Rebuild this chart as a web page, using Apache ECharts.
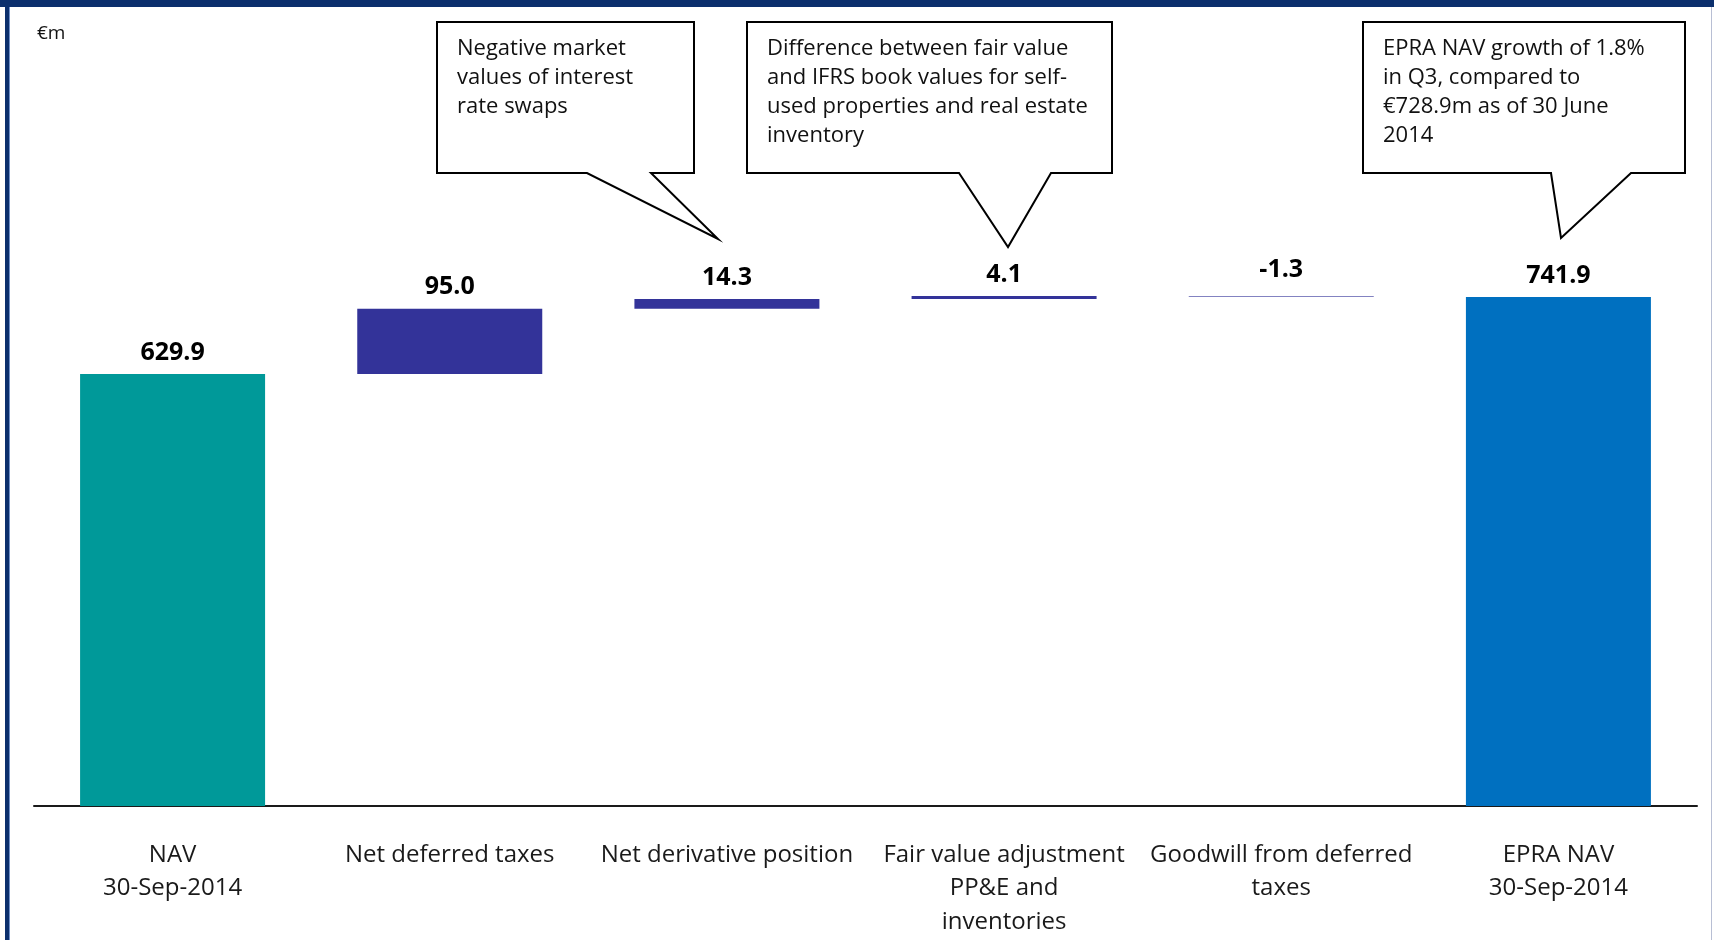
<!DOCTYPE html>
<html>
<head>
<meta charset="utf-8">
<title>EPRA NAV bridge</title>
<script src="https://cdn.jsdelivr.net/npm/echarts@6/dist/echarts.min.js"></script>
<style>
  html, body { margin: 0; padding: 0; background: #fff; }
  #chart { width: 1714px; height: 940px; }
</style>
</head>
<body>
<div id="chart"></div>
<script>
// bridge from NAV to EPRA NAV, €m
const categories = [
  'NAV\n30-Sep-2014',
  'Net deferred taxes',
  'Net derivative position',
  'Fair value adjustment\nPP&E and\ninventories',
  'Goodwill from deferred\ntaxes',
  'EPRA NAV\n30-Sep-2014'
];
const startValue = 629.9;
const changes = [95.0, 14.3, 4.1, -1.3];
const endValue = 741.9;

const barColors = ['#009999', '#333399', '#333399', '#333399', '#8383c1', '#0070c0'];

const notes = [
  ['Negative market', 'values of interest', 'rate swaps'],
  ['Difference between fair value', 'and IFRS book values for self-', 'used properties and real estate', 'inventory'],
  ['EPRA NAV growth of 1.8%', 'in Q3, compared to', '€728.9m as of 30 June', '2014']
];

// build invisible base + visible part for the waterfall
const shown = [startValue];
const base = [0];
let running = startValue;
changes.forEach(function (d) {
  const next = running + d;
  base.push(Math.min(running, next));
  shown.push(Math.abs(d));
  running = next;
});
base.push(0);
shown.push(endValue);
const labelValues = [startValue].concat(changes, [endValue]);

const FONT = '"Open Sans", "Noto Sans", sans-serif';
const NAVY = '#0b2f6d';

function callout(lines, box, tip) {
  const L = box[0], T = box[1], R = box[2], B = box[3];
  return [
    {
      type: 'polygon',
      shape: {
        points: [[L, T], [R, T], [R, B], [tip[1], B], [tip[2], tip[3]], [tip[0], B], [L, B]]
      },
      style: { fill: '#fff', stroke: '#000', lineWidth: 2 },
      z: 10
    },
    {
      type: 'text',
      x: L + 20,
      y: T + 12,
      style: {
        text: lines.join('\n'),
        font: '22px ' + FONT,
        lineHeight: 29,
        fill: '#111',
        verticalAlign: 'top'
      },
      z: 11
    }
  ];
}

const chart = echarts.init(document.getElementById('chart'));

chart.setOption({
  animation: false,
  backgroundColor: '#fff',
  grid: { left: 34, right: 17, top: 120, bottom: 134 },
  xAxis: {
    type: 'category',
    data: categories,
    axisLine: { lineStyle: { color: '#1a1a1a', width: 2 } },
    axisTick: { show: false },
    axisLabel: {
      color: '#1a1a1a',
      fontFamily: FONT,
      fontSize: 24,
      lineHeight: 33.5,
      margin: 32,
      interval: 0
    }
  },
  yAxis: { type: 'value', min: 0, max: 1000, show: false },
  series: [
    {
      type: 'bar',
      stack: 'wf',
      data: base,
      barWidth: 185,
      silent: true,
      itemStyle: { color: 'transparent' }
    },
    {
      type: 'bar',
      stack: 'wf',
      data: shown.map(function (v, i) {
        // negative steps sit a little further from their label
        return labelValues[i] < 0 ? { value: v, label: { distance: 14 } } : v;
      }),
      barWidth: 185,
      itemStyle: {
        color: function (p) { return barColors[p.dataIndex]; }
      },
      label: {
        show: true,
        position: 'top',
        distance: 9,
        color: '#000',
        fontFamily: FONT,
        fontWeight: 'bold',
        fontSize: 25,
        formatter: function (p) { return labelValues[p.dataIndex].toFixed(1); }
      }
    }
  ],
  graphic: [
    { type: 'rect', shape: { x: 0, y: 0, width: 1714, height: 7 }, style: { fill: NAVY } },
    { type: 'rect', shape: { x: 5, y: 0, width: 4, height: 940 }, style: { fill: NAVY } },
    { type: 'rect', shape: { x: 9, y: 7, width: 1, height: 933 }, style: { fill: '#6f8fc8' } },
    { type: 'rect', shape: { x: 1711, y: 7, width: 1, height: 933 }, style: { fill: '#b8bfd4' } },
    {
      type: 'text',
      x: 37,
      y: 34,
      style: { text: '€m', font: '19px ' + FONT, fill: '#111', verticalAlign: 'middle' }
    }
  ].concat(
    callout(notes[0], [437, 22, 694, 173], [587, 651, 718, 239]),
    callout(notes[1], [747, 22, 1112, 173], [959, 1051, 1008, 247]),
    callout(notes[2], [1363, 22, 1685, 173], [1551, 1631, 1561, 238])
  )
});
</script>
</body>
</html>
